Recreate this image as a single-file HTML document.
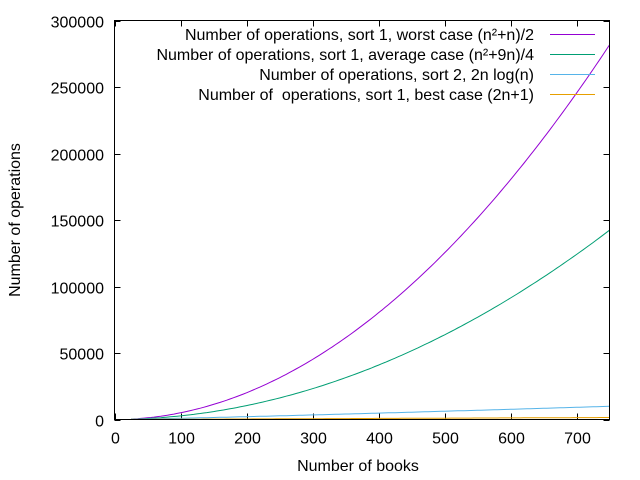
<!DOCTYPE html>
<html><head><meta charset="utf-8"><style>
html,body{margin:0;padding:0;background:#fff;}
svg{display:block;font-family:"Liberation Sans",Arial,sans-serif;}
</style></head><body>
<svg id="s" width="640" height="480" xmlns="http://www.w3.org/2000/svg">
<rect width="640" height="480" fill="#fff"/>
<g id="ticks" stroke="#000" stroke-width="1"></g>
<g id="labels" font-size="16" fill="#000"></g>
<g id="curves" fill="none" stroke-width="1"></g>
<rect x="114.5" y="20.5" width="495" height="399" fill="none" stroke="#000" stroke-width="1"/>
<text x="358" y="471" font-size="16" text-anchor="middle">Number of books</text>
<text transform="translate(20,220) rotate(-90)" font-size="16" text-anchor="middle">Number of operations</text>
<g font-size="16" text-anchor="end">
<text x="534" y="40">Number of operations, sort 1, worst case (n²+n)/2</text>
<text x="534" y="60">Number of operations, sort 1, average case (n²+9n)/4</text>
<text x="534" y="80">Number of operations, sort 2, 2n log(n)</text>
<text x="534" y="100">Number of &#160;operations, sort 1, best case (2n+1)</text>
</g>
<line x1="550" y1="34.5" x2="595" y2="34.5" stroke="#9400d3"/>
<line x1="550" y1="54.5" x2="595" y2="54.5" stroke="#009e73"/>
<line x1="550" y1="74.5" x2="595" y2="74.5" stroke="#56b4e9"/>
<line x1="550" y1="94.5" x2="595" y2="94.5" stroke="#e69f00"/>
</svg>
<script>
var L=114.5,R=609.5,T=20.5,B=419.5;
function X(v){return L+(R-L)*v/750;}
function Y(v){return B-(B-T)*v/300000;}
var ns="http://www.w3.org/2000/svg";
var tk=document.getElementById('ticks'),lb=document.getElementById('labels'),cv=document.getElementById('curves');
function el(p,t,a,txt){var e=document.createElementNS(ns,t);for(var k in a)e.setAttribute(k,a[k]);if(txt!=null)e.textContent=txt;p.appendChild(e);return e;}
for(var i=0;i<=7;i++){var x=Math.round(X(i*100))+0.5;
 el(tk,'line',{x1:x,y1:B,x2:x,y2:B-6});el(tk,'line',{x1:x,y1:T,x2:x,y2:T+6});
 el(lb,'text',{x:x,y:B+24,'text-anchor':'middle'},String(i*100));}
for(var j=0;j<=6;j++){var y=Math.round(Y(j*50000))+0.5;
 el(tk,'line',{x1:L,y1:y,x2:L+6,y2:y});el(tk,'line',{x1:R,y1:y,x2:R-6,y2:y});
 el(lb,'text',{x:104,y:y+6,'text-anchor':'end'},String(j*50000));}
var fs=[[function(n){return (n*n+n)/2},'#9400d3'],[function(n){return (n*n+9*n)/4},'#009e73'],[function(n){return 2*n*Math.log(n)},'#56b4e9'],[function(n){return 2*n+1},'#e69f00']];
fs.forEach(function(f){var d='';for(var n=25;n<=750;n+=5){d+=(d?'L':'M')+X(n).toFixed(1)+','+Y(f[0](n)).toFixed(1);}
 el(cv,'path',{d:d,stroke:f[1]});});
</script>
</body></html>
